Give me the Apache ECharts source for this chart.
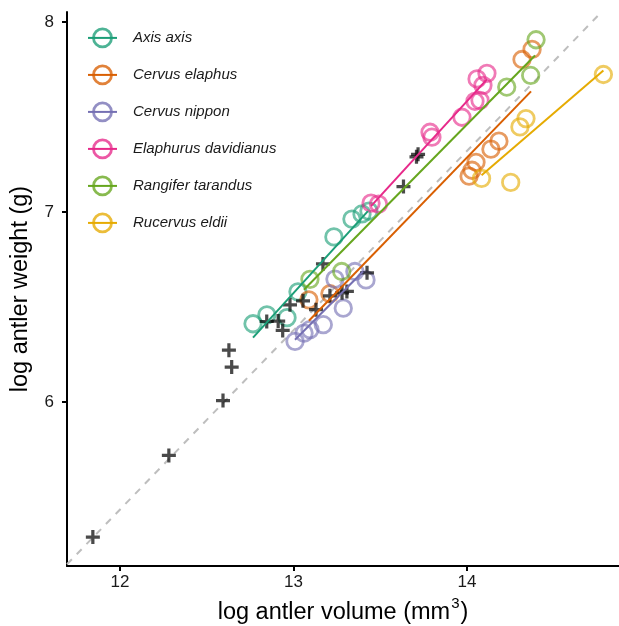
<!DOCTYPE html>
<html>
<head>
<meta charset="utf-8">
<script src="https://cdn.jsdelivr.net/npm/echarts/dist/echarts.min.js"></script>
<style>html,body{margin:0;padding:0;background:#fff}#c{width:619px;height:626px}</style>
</head>
<body>
<div id="c"></div>
<script>
// ---- data (log antler volume, log antler weight) ----
const species = ['Axis axis','Cervus elaphus','Cervus nippon','Elaphurus davidianus','Rangifer tarandus','Rucervus eldii'];
const speciesColors = ['#1B9E77','#D95F02','#7570B3','#E7298A','#66A61E','#E6AB02'];

const axisX = [12.767, 12.847, 12.963, 13.026, 13.233, 13.337, 13.395, 13.435];
const axisY = [6.412, 6.459, 6.444, 6.580, 6.869, 6.963, 6.990, 7.005];
const elaphusX = [13.089, 13.210, 14.012, 14.029, 14.052, 14.138, 14.184, 14.317, 14.375];
const elaphusY = [6.538, 6.570, 7.189, 7.220, 7.262, 7.331, 7.373, 7.803, 7.856];
const nipponX = [13.009, 13.061, 13.095, 13.172, 13.287, 13.239, 13.354, 13.418];
const nipponY = [6.319, 6.363, 6.381, 6.407, 6.494, 6.647, 6.687, 6.643];
const elaphurusX = [13.447, 13.490, 13.787, 13.798, 13.971, 14.046, 14.075, 14.058, 14.115, 14.092];
const elaphurusY = [7.047, 7.042, 7.420, 7.394, 7.499, 7.583, 7.588, 7.701, 7.730, 7.667];
const rangiferX = [13.095, 13.278, 14.229, 14.367, 14.398];
const rangiferY = [6.646, 6.687, 7.658, 7.719, 7.907];
const rucervusX = [14.084, 14.252, 14.305, 14.340, 14.786];
const rucervusY = [7.177, 7.156, 7.448, 7.492, 7.724];

// fitted lines (start / end)
const axisFitX = [12.767, 13.429], axisFitY = [6.339, 7.005];
const elaphusFitX = [13.089, 14.369], elaphusFitY = [6.428, 7.635];
const nipponFitX = [13.009, 13.401], nipponFitY = [6.328, 6.687];
const elaphurusFitX = [13.447, 14.115], elaphurusFitY = [7.031, 7.698];
const rangiferFitX = [13.060, 14.392], rangiferFitY = [6.591, 7.824];
const rucervusFitX = [14.084, 14.786], rucervusFitY = [7.194, 7.745];

// other specimens (crosses)
const otherX = [11.844, 12.282, 12.594, 12.628, 12.644, 12.846, 12.912, 12.938, 12.980, 13.055, 13.130, 13.170, 13.210, 13.280, 13.308, 13.424, 13.634, 13.709, 13.718];
const otherY = [5.289, 5.719, 6.008, 6.273, 6.184, 6.424, 6.426, 6.377, 6.512, 6.533, 6.486, 6.727, 6.559, 6.575, 6.582, 6.680, 7.134, 7.291, 7.304];

// dashed reference line across the panel
const refX = [11.695, 14.775], refY = [5.146, 8.053];

const xTicks = [12, 13, 14];
const yTicks = [6, 7, 8];

// ---- build ----
const pts = [[axisX,axisY],[elaphusX,elaphusY],[nipponX,nipponY],[elaphurusX,elaphurusY],[rangiferX,rangiferY],[rucervusX,rucervusY]];
const fits = [[axisFitX,axisFitY],[elaphusFitX,elaphusFitY],[nipponFitX,nipponFitY],[elaphurusFitX,elaphurusFitY],[rangiferFitX,rangiferFitY],[rucervusFitX,rucervusFitY]];
const zip = (a,b) => a.map((v,i)=>[v,b[i]]);
function alpha(hex,a){const n=parseInt(hex.slice(1),16);return `rgba(${n>>16},${(n>>8)&255},${n&255},${a})`;}
const A = 0.78;

const series = [];
// fit lines first so the legend uses their line+circle icon
species.forEach((s,i)=>{
  series.push({type:'line', name:s, data: zip(fits[i][0],fits[i][1]), showSymbol:false, symbol:'circle', z:4,
    itemStyle:{color:'rgba(0,0,0,0)', borderColor:alpha(speciesColors[i],A), borderWidth:2.8},
    lineStyle:{color:speciesColors[i], width:2}});
});
series.push({type:'line', data: zip(refX,refY), showSymbol:false, silent:true, z:1,
  lineStyle:{color:'#BEBEBE', width:2, type:[7,7]}});
species.forEach((s,i)=>{
  series.push({type:'scatter', name:s, data: zip(pts[i][0],pts[i][1]), symbol:'circle', symbolSize:16.5, z:2,
    itemStyle:{color:'rgba(0,0,0,0)', borderColor:alpha(speciesColors[i],A), borderWidth:2.8}});
});
series.push({type:'scatter', data: zip(otherX,otherY), z:3,
  symbol:'path://M-1,-0.23H1V0.23H-1Z M-0.23,-1H0.23V1H-0.23Z', symbolSize:14,
  itemStyle:{color:'rgba(10,10,10,0.92)'}});

const chart = echarts.init(document.getElementById('c'), null, {renderer:'canvas'});
chart.setOption({
  animation:false,
  backgroundColor:'#fff',
  textStyle:{fontFamily:'Liberation Sans, Arial, sans-serif'},
  grid:{left:67, top:12, right:0, bottom:60, containLabel:false, outerBoundsMode:'none'},
  xAxis: {
    type:'value', min:11.695, max:14.876,
    splitLine:{show:false},
    axisLine:{show:true, onZero:false, lineStyle:{color:'#000', width:2}},
    axisTick:{show:true, length:5, lineStyle:{color:'#000', width:2}, customValues:xTicks},
    axisLabel:{customValues:xTicks, fontSize:17, color:'#1a1a1a', margin:8},
    name:'log antler volume (mm{sup|3})', nameLocation:'middle', nameGap:29,
    nameTextStyle:{fontSize:23.5, color:'#000', rich:{sup:{fontSize:15, padding:[0,1,18,1]}}}
  },
  yAxis: {
    type:'value', min:5.137, max:8.053,
    splitLine:{show:false},
    axisLine:{show:true, onZero:false, lineStyle:{color:'#000', width:2}},
    axisTick:{show:true, length:5, lineStyle:{color:'#000', width:2}, customValues:yTicks},
    axisLabel:{customValues:yTicks, fontSize:17, color:'#1a1a1a', margin:13},
    name:'log antler weight (g)', nameLocation:'middle', nameGap:34, nameRotate:90,
    nameTextStyle:{fontSize:23.5, color:'#000'}
  },
  legend:{
    orient:'vertical', left:87, top:27.5, padding:0, itemWidth:29, itemHeight:22.5, itemGap:16.2,
    textStyle:{fontSize:15, fontStyle:'italic', color:'#1a1a1a', padding:[0,0,0,11]},
    data: species.map((s,i)=>({name:s,
      itemStyle:{color:'rgba(0,0,0,0)', borderColor:alpha(speciesColors[i],A), borderWidth:2.8},
      lineStyle:{color:speciesColors[i], width:2}})),
    selectedMode:false
  },
  series
});
</script>
</body>
</html>
